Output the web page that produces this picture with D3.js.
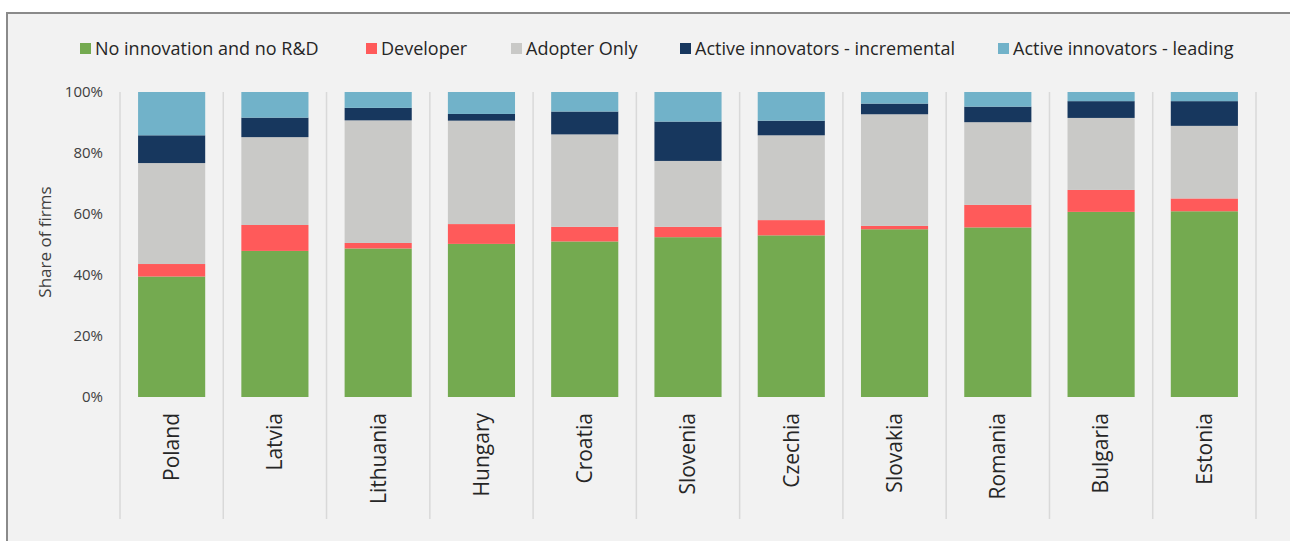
<!DOCTYPE html>
<html>
<head>
<meta charset="utf-8">
<script src="https://cdn.jsdelivr.net/npm/d3@7"></script>
<style>
  html, body { margin: 0; padding: 0; background: #fff; }
  svg { display: block; font-family: "Open Sans", "Noto Sans", sans-serif; }
</style>
</head>
<body>
<svg id="chart" width="1290" height="541"></svg>
<script>
// categories and series (share of firms, %)
const countries = ['Poland', 'Latvia', 'Lithuania', 'Hungary', 'Croatia', 'Slovenia',
	'Czechia', 'Slovakia', 'Romania', 'Bulgaria', 'Estonia'];

const noInnovation = [39.5, 47.9, 48.7, 50.2, 51.0, 52.4, 53.0, 55.0, 55.6, 60.7, 60.9];
const developer    = [ 4.1,  8.5,  1.8,  6.5,  4.8,  3.4,  5.0,  1.1,  7.4,  7.2,  4.2];
const adopterOnly  = [33.1, 28.8, 40.2, 33.9, 30.3, 21.6, 27.8, 36.6, 27.1, 23.6, 23.8];
const incremental  = [ 9.1,  6.4,  4.1,  2.2,  7.5, 12.9,  4.8,  3.5,  5.1,  5.5,  8.1];
const leading      = [14.2,  8.4,  5.2,  7.2,  6.4,  9.7,  9.4,  3.8,  4.8,  3.0,  3.0];

const seriesNames = ['No innovation and no R&D', 'Developer', 'Adopter Only',
	'Active innovators - incremental', 'Active innovators - leading'];
const seriesColors = ['#74aa50', '#ff5a5a', '#c9c9c7', '#17375e', '#71b2c9'];
const yTicks = [0, 20, 40, 60, 80, 100];

const svg = d3.select('#chart');

// frame
svg.append('rect')
	.attr('x', 7).attr('y', 13)
	.attr('width', 1300).attr('height', 540)
	.attr('fill', '#f2f2f2')
	.attr('stroke', '#8a8a8a')
	.attr('stroke-width', 2);

const margin = {top: 92, left: 120, right: 34, bottom: 144};
const width = 1290 - margin.left - margin.right;
const height = 541 - margin.top - margin.bottom;

const g = svg.append('g').attr('transform', 'translate(' + margin.left + ',' + margin.top + ')');

const x = d3.scaleBand().domain(countries).range([0, width]).paddingInner(0.35).paddingOuter(0.175);
const y = d3.scaleLinear().domain([0, 100]).range([height, 0]);

// table for stacking
const table = countries.map(function (c, i) {
	return {
		country: c,
		s0: noInnovation[i], s1: developer[i], s2: adopterOnly[i], s3: incremental[i], s4: leading[i]
	};
});
const stack = d3.stack().keys(['s0', 's1', 's2', 's3', 's4']);
const layers = stack(table);

// category separators
const step = x.step();
g.append('g')
	.selectAll('line')
	.data(d3.range(countries.length + 1))
	.enter().append('line')
	.attr('x1', function (i) { return i * step; })
	.attr('x2', function (i) { return i * step; })
	.attr('y1', 0)
	.attr('y2', height + 122)
	.attr('stroke', '#d9d9d9')
	.attr('stroke-width', 1.5);

// bars
g.selectAll('.layer')
	.data(layers).enter().append('g')
	.attr('class', 'layer')
	.attr('fill', function (d, i) { return seriesColors[i]; })
	.selectAll('rect')
	.data(function (d) { return d; })
	.enter().append('rect')
	.attr('x', function (d) { return x(d.data.country); })
	.attr('width', x.bandwidth())
	.attr('y', function (d) { return y(Math.min(d[1], 100)); })
	.attr('height', function (d) { return y(d[0]) - y(Math.min(d[1], 100)); });

// y axis
const yAxis = g.append('g')
	.call(d3.axisLeft(y).tickValues(yTicks).tickFormat(function (d) { return d + '%'; }).tickSize(0).tickPadding(17));
yAxis.select('.domain').remove();
yAxis.selectAll('.tick text')
	.attr('fill', '#404040')
	.style('font-size', '15px')
	.style('font-family', '"Open Sans", "Noto Sans", sans-serif');

// x axis labels
const xAxis = g.append('g')
	.attr('transform', 'translate(0,' + height + ')')
	.call(d3.axisBottom(x).tickSize(0).tickPadding(0));
xAxis.select('.domain').remove();
xAxis.selectAll('.tick text')
	.attr('transform', 'rotate(-90)')
	.attr('text-anchor', 'end')
	.attr('x', -16)
	.attr('y', 0)
	.attr('dy', '0.35em')
	.attr('fill', '#262626')
	.style('font-size', '21px')
	.style('font-family', '"Open Sans", "Noto Sans", sans-serif');

// y axis title
svg.append('text')
	.attr('transform', 'translate(51,242) rotate(-90)')
	.attr('text-anchor', 'middle')
	.attr('fill', '#404040')
	.style('font-size', '17px')
	.text('Share of firms');

// legend
const legendX = [80, 366, 511, 680, 998];
const legend = svg.append('g').attr('transform', 'translate(0,49)');
const item = legend.selectAll('g')
	.data(seriesNames).enter().append('g')
	.attr('transform', function (d, i) { return 'translate(' + legendX[i] + ',0)'; });
item.append('rect')
	.attr('x', 0).attr('y', -6)
	.attr('width', 11).attr('height', 11)
	.attr('fill', function (d, i) { return seriesColors[i]; });
item.append('text')
	.attr('x', 15)
	.attr('y', 0)
	.attr('dy', '0.35em')
	.attr('fill', '#262626')
	.style('font-size', '18px')
	.text(function (d) { return d; });
</script>
</body>
</html>
